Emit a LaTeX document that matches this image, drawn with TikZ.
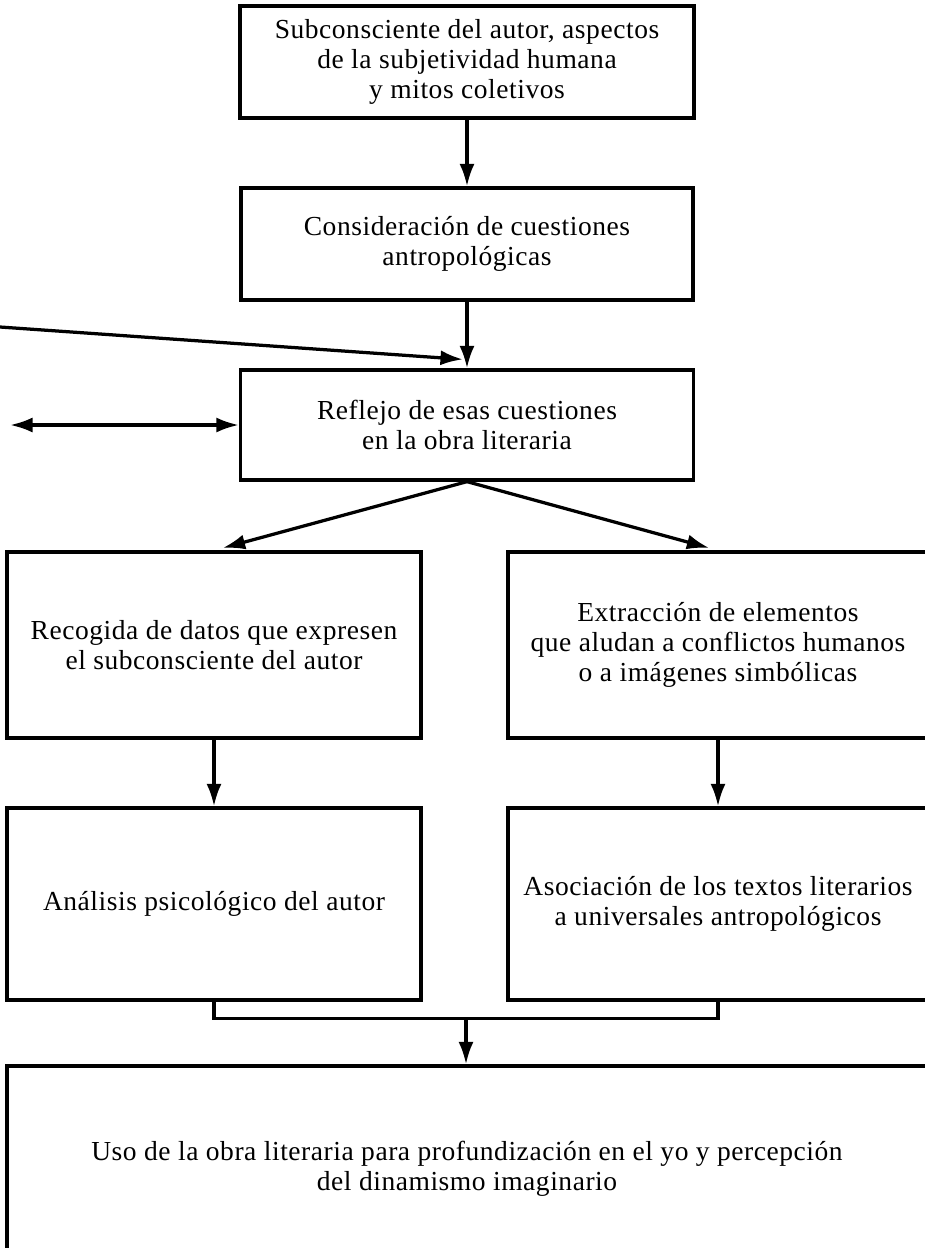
\documentclass[tikz,border=0pt]{standalone}
\usepackage{fontspec}
\setmainfont[LetterSpace=2]{Liberation Serif}
\usepackage{tikz}
\usetikzlibrary{arrows.meta}
\usetikzlibrary{calc}

\tikzset{
  caja/.style={draw, line width=1.3pt, align=center, inner sep=0pt,
    font=\fontsize{11}{12}\selectfont},
  flecha/.style={line width=1.3pt, ->},
  >={Latex[length=9pt,width=6pt]}
}

\begin{document}
\begin{tikzpicture}[x=0.4pt,y=-0.4pt]
        \useasboundingbox (0,0) rectangle (925,1248);
        \clip (0,0) rectangle (925,1248);
        \node[caja, minimum width=181.6pt, minimum height=44.8pt] (sub) at (467,62)
          {Subconsciente del autor, aspectos\\ de la subjetividad humana\\ y mitos coletivos};
        \node[caja, minimum width=180.8pt, minimum height=44.8pt] (cons) at (467,244)
          {Consideración de cuestiones\\ antropológicas};
        \node[caja, minimum width=181.2pt, minimum height=44pt] (refl) at (467,425)
          {Reflejo de esas cuestiones\\ en la obra literaria};
        \node[caja, minimum width=165.6pt, minimum height=74.4pt] (datos) at (214,645)
          {Recogida de datos que expresen\\ el subconsciente del autor};
        \node[caja, minimum width=168pt, minimum height=74.4pt] (extr) at (718,645)
          {Extracción de elementos\\ que aludan a conflictos humanos\\ o a imágenes simbólicas};
        \node[caja, minimum width=165.6pt, minimum height=76.8pt] (anal) at (214,904)
          {Análisis psicológico del autor};
        \node[caja, minimum width=168pt, minimum height=76.8pt] (asoc) at (718,904)
          {Asociación de los textos literarios\\ a universales antropológicos};
        \node[caja, minimum width=368pt, minimum height=82pt] (uso) at (467,1168.5)
          {Uso de la obra literaria para profundización en el yo y percepción\\
           del dinamismo imaginario};
        \coordinate (izq) at (0,327);
        \coordinate (lado) at (10,425);
        \draw[flecha] (sub) -- (cons);
        \draw[flecha] (cons) -- (refl);
        \draw[flecha] (izq) -- ([shift={(-4,-9)}]refl.north);
        \draw[flecha, <->] (lado) -- (refl.west);
        \draw[flecha, shorten >=3.6pt] (refl.south) -- (datos.north);
        \draw[flecha, shorten >=3.6pt] (refl.south) -- (extr.north);
        \draw[flecha] (datos) -- (anal);
        \draw[flecha] (extr) -- (asoc);
        \draw[line width=1.3pt] (anal.south) -- ++(0,17) -| (asoc.south);
        \coordinate (medio) at ($(anal.south)!0.5!(asoc.south)+(0,17)$);
        \draw[flecha] (medio) -- (uso.north -| medio);
      \end{tikzpicture}
\end{document}
